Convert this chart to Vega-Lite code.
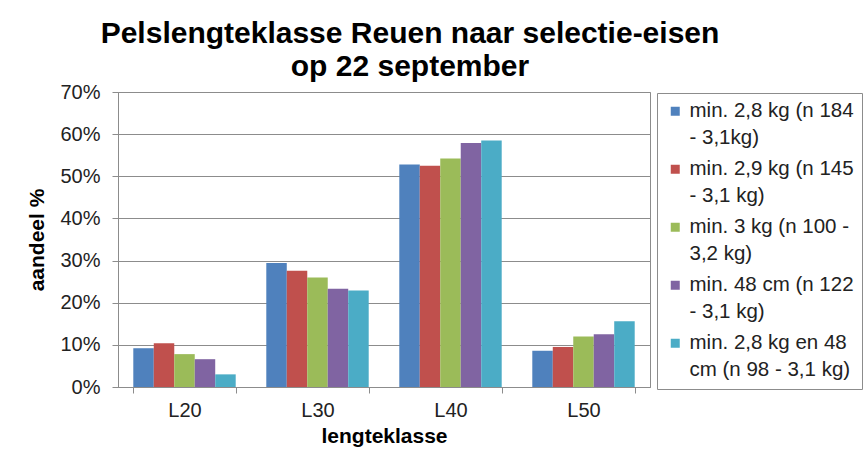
{
  "$schema": "https://vega.github.io/schema/vega-lite/v6.json",
  "width": 532,
  "height": 295,
  "autosize": {"type": "none"},
  "padding": {"left": 118, "top": 92, "right": 217, "bottom": 67},
  "background": "white",
  "title": {
    "text": ["Pelslengteklasse Reuen naar selectie-eisen", "op 22 september"],
    "font": "Liberation Sans",
    "fontSize": 30,
    "fontWeight": "bold",
    "lineHeight": 33,
    "anchor": "middle",
    "dx": 26,
    "offset": 0,
    "color": "black"
  },
  "data": {
    "values": [
      {"klasse": "L20", "serie": "min. 2,8 kg (n 184 - 3,1kg)", "aandeel": 0.092},
      {"klasse": "L20", "serie": "min. 2,9 kg (n 145 - 3,1 kg)", "aandeel": 0.104},
      {"klasse": "L20", "serie": "min. 3 kg (n 100 - 3,2 kg)", "aandeel": 0.078},
      {"klasse": "L20", "serie": "min. 48 cm (n 122 - 3,1 kg)", "aandeel": 0.066},
      {"klasse": "L20", "serie": "min. 2,8 kg en 48 cm (n 98 - 3,1 kg)", "aandeel": 0.030},
      {"klasse": "L30", "serie": "min. 2,8 kg (n 184 - 3,1kg)", "aandeel": 0.294},
      {"klasse": "L30", "serie": "min. 2,9 kg (n 145 - 3,1 kg)", "aandeel": 0.276},
      {"klasse": "L30", "serie": "min. 3 kg (n 100 - 3,2 kg)", "aandeel": 0.260},
      {"klasse": "L30", "serie": "min. 48 cm (n 122 - 3,1 kg)", "aandeel": 0.233},
      {"klasse": "L30", "serie": "min. 2,8 kg en 48 cm (n 98 - 3,1 kg)", "aandeel": 0.229},
      {"klasse": "L40", "serie": "min. 2,8 kg (n 184 - 3,1kg)", "aandeel": 0.528},
      {"klasse": "L40", "serie": "min. 2,9 kg (n 145 - 3,1 kg)", "aandeel": 0.525},
      {"klasse": "L40", "serie": "min. 3 kg (n 100 - 3,2 kg)", "aandeel": 0.542},
      {"klasse": "L40", "serie": "min. 48 cm (n 122 - 3,1 kg)", "aandeel": 0.579},
      {"klasse": "L40", "serie": "min. 2,8 kg en 48 cm (n 98 - 3,1 kg)", "aandeel": 0.585},
      {"klasse": "L50", "serie": "min. 2,8 kg (n 184 - 3,1kg)", "aandeel": 0.086},
      {"klasse": "L50", "serie": "min. 2,9 kg (n 145 - 3,1 kg)", "aandeel": 0.095},
      {"klasse": "L50", "serie": "min. 3 kg (n 100 - 3,2 kg)", "aandeel": 0.120},
      {"klasse": "L50", "serie": "min. 48 cm (n 122 - 3,1 kg)", "aandeel": 0.125},
      {"klasse": "L50", "serie": "min. 2,8 kg en 48 cm (n 98 - 3,1 kg)", "aandeel": 0.156}
    ]
  },
  "mark": {"type": "bar"},
  "encoding": {
    "x": {
      "field": "klasse",
      "type": "nominal",
      "scale": {"paddingInner": 0.23, "paddingOuter": 0.115},
      "axis": {
        "title": "lengteklasse",
        "labelAngle": 0,
        "tickBand": "extent",
        "tickSize": 6,
        "labelPadding": 7,
        "titlePadding": 5
      }
    },
    "xOffset": {
      "field": "serie",
      "type": "nominal",
      "sort": ["min. 2,8 kg (n 184 - 3,1kg)", "min. 2,9 kg (n 145 - 3,1 kg)", "min. 3 kg (n 100 - 3,2 kg)", "min. 48 cm (n 122 - 3,1 kg)", "min. 2,8 kg en 48 cm (n 98 - 3,1 kg)"],
      "scale": {"paddingInner": 0, "paddingOuter": 0}
    },
    "y": {
      "field": "aandeel",
      "type": "quantitative",
      "scale": {"domain": [0, 0.7], "nice": false},
      "axis": {
        "title": "aandeel %",
        "format": ".0%",
        "values": [0, 0.1, 0.2, 0.3, 0.4, 0.5, 0.6, 0.7],
        "tickSize": 6,
        "labelPadding": 12,
        "titlePadding": 12
      }
    },
    "color": {
      "field": "serie",
      "type": "nominal",
      "sort": ["min. 2,8 kg (n 184 - 3,1kg)", "min. 2,9 kg (n 145 - 3,1 kg)", "min. 3 kg (n 100 - 3,2 kg)", "min. 48 cm (n 122 - 3,1 kg)", "min. 2,8 kg en 48 cm (n 98 - 3,1 kg)"],
      "scale": {"range": ["#4F81BD", "#C0504D", "#9BBB59", "#8064A2", "#4BACC6"]},
      "legend": {
        "title": null,
        "orient": "none",
        "legendX": 539,
        "legendY": 1,
        "labelExpr": "datum.label == 'min. 2,8 kg (n 184 - 3,1kg)' ? ['min. 2,8 kg (n 184', '- 3,1kg)'] : datum.label == 'min. 2,9 kg (n 145 - 3,1 kg)' ? ['min. 2,9 kg (n 145', '- 3,1 kg)'] : datum.label == 'min. 3 kg (n 100 - 3,2 kg)' ? ['min. 3 kg (n 100 -', '3,2 kg)'] : datum.label == 'min. 48 cm (n 122 - 3,1 kg)' ? ['min. 48 cm (n 122', '- 3,1 kg)'] : ['min. 2,8 kg en 48', 'cm (n 98 - 3,1 kg)']",
        "encode": {
          "labels": {"update": {"lineHeight": {"value": 27}}}
        }
      }
    }
  },
  "config": {
    "font": "Liberation Sans",
    "view": {"stroke": "#8c8c8c", "strokeWidth": 1},
    "axis": {
      "labelFont": "Liberation Sans",
      "labelFontSize": 20,
      "labelColor": "#222",
      "titleFont": "Liberation Sans",
      "titleFontSize": 21,
      "titleFontWeight": "bold",
      "titleColor": "black",
      "domainColor": "#8c8c8c",
      "tickColor": "#8c8c8c",
      "gridColor": "#8c8c8c",
      "gridWidth": 1
    },
    "axisX": {"grid": false},
    "axisY": {"grid": true},
    "legend": {
      "labelFont": "Liberation Sans",
      "labelFontSize": 20.5,
      "labelColor": "#222",
      "labelLimit": 400,
      "symbolType": "square",
      "symbolSize": 81,
      "symbolStrokeWidth": 0,
      "padding": 8,
      "strokeColor": "#8c8c8c",
      "fillColor": "white",
      "rowPadding": 10,
      "labelOffset": 4
    }
  }
}
